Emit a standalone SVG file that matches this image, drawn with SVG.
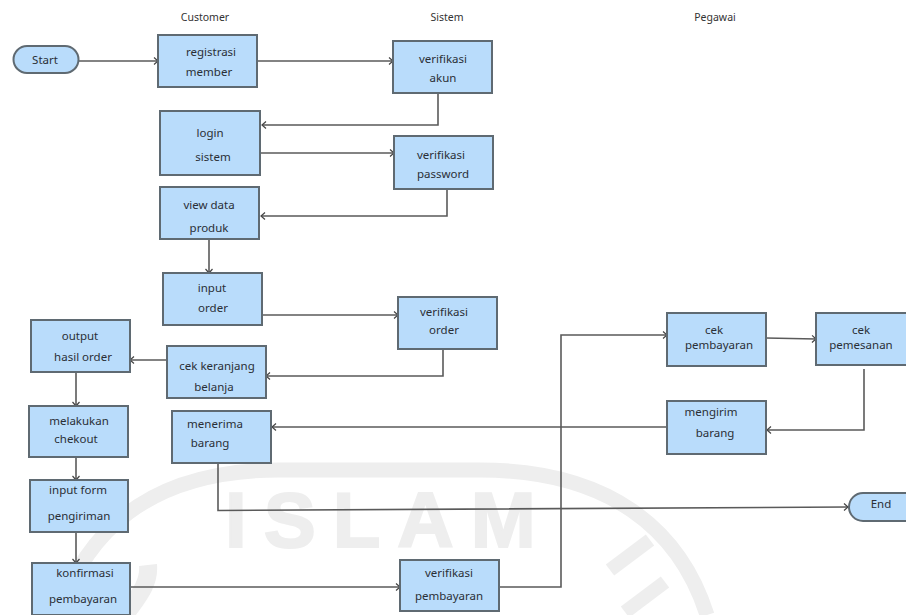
<svg xmlns="http://www.w3.org/2000/svg" width="906" height="615" viewBox="0 0 906 615">
<style>
.n{fill:#b9dcfb;stroke:#5f6a72;stroke-width:2}
.t{font-family:"Noto Sans","DejaVu Sans",sans-serif;font-size:11.5px;fill:#2a2f36;text-anchor:middle}
.h{font-family:"Noto Sans","DejaVu Sans",sans-serif;font-size:10.5px;fill:#333;text-anchor:middle}
.c{fill:none;stroke:#5a5a5a;stroke-width:1.6}
.w{font-family:"Liberation Sans",sans-serif;font-weight:bold;font-size:78px;fill:#eeeeee;stroke:#eeeeee;stroke-width:2;letter-spacing:17px}
.l{fill:none;stroke:#eeeeee}
</style>
<defs>
<marker id="a" markerWidth="8" markerHeight="10" refX="6" refY="5" orient="auto" markerUnits="userSpaceOnUse"><path d="M2 1.500L6 5L2 8.500" fill="none" stroke="#444" stroke-width="1.200"/></marker>
</defs>
<rect width="906" height="615" fill="#fff"/>
<g id="watermark">
<path class="l" stroke-width="15" d="M58 615C85 535 145 470 280 470H480C610 470 680 530 707 615"/>
<path class="l" stroke-width="18" d="M148 565C150 585 135 600 125 615"/>
<path class="l" stroke-width="14" d="M610 570L650 540"/>
<path class="l" stroke-width="14" d="M625 612L665 582"/>
<text class="w" x="225" y="547">ISLAM</text>
</g>
<g id="connectors">
<path class="c" marker-end="url(#a)" d="M79 61H158"/>
<path class="c" marker-end="url(#a)" d="M257 61H393"/>
<path class="c" marker-end="url(#a)" d="M438 93V125H262"/>
<path class="c" marker-end="url(#a)" d="M260 153H394"/>
<path class="c" marker-end="url(#a)" d="M447 189V216H261"/>
<path class="c" marker-end="url(#a)" d="M209 239V273"/>
<path class="c" marker-end="url(#a)" d="M262 315H398"/>
<path class="c" marker-end="url(#a)" d="M443 349V376H266"/>
<path class="c" marker-end="url(#a)" d="M167 360H130"/>
<path class="c" marker-end="url(#a)" d="M76 372V406"/>
<path class="c" marker-end="url(#a)" d="M76 457V480"/>
<path class="c" marker-end="url(#a)" d="M76 532V563"/>
<path class="c" marker-end="url(#a)" d="M130 587H400"/>
<path class="c" marker-end="url(#a)" d="M499 587H561V335H667"/>
<path class="c" marker-end="url(#a)" d="M766 338L816 339"/>
<path class="c" marker-end="url(#a)" d="M864 369V430H767"/>
<path class="c" marker-end="url(#a)" d="M667 427H272"/>
<path class="c" marker-end="url(#a)" d="M218 463V510.500L848 507"/>
</g>
<g id="start"><rect class="n" x="13.500" y="46" width="65" height="27" rx="13.500"/><text class="t" x="45" y="64">Start</text></g>
<g id="end"><path class="n" d="M907 493H863A13.500 13.500 0 0 0 863 521H907Z"/><text class="t" x="881" y="508">End</text></g>
<g id="registrasi"><rect class="n" x="158" y="35" width="99" height="52"/><text class="t" x="211" y="56">registrasi</text><text class="t" x="209" y="76">member</text></g>
<g id="verif-akun"><rect class="n" x="393" y="41" width="99" height="52"/><text class="t" x="443" y="63">verifikasi</text><text class="t" x="443" y="82">akun</text></g>
<g id="login"><rect class="n" x="160" y="111" width="100" height="64"/><text class="t" x="210" y="137">login</text><text class="t" x="213" y="161">sistem</text></g>
<g id="verif-password"><rect class="n" x="394" y="136" width="99" height="53"/><text class="t" x="441" y="159">verifikasi</text><text class="t" x="443" y="178">password</text></g>
<g id="view"><rect class="n" x="160" y="187" width="99" height="52"/><text class="t" x="209" y="209">view data</text><text class="t" x="209" y="232">produk</text></g>
<g id="input"><rect class="n" x="163" y="273" width="99" height="52"/><text class="t" x="212" y="292">input</text><text class="t" x="213" y="312">order</text></g>
<g id="verif-order"><rect class="n" x="398" y="297" width="99" height="52"/><text class="t" x="444" y="316">verifikasi</text><text class="t" x="444" y="334">order</text></g>
<g id="output"><rect class="n" x="31" y="320" width="99" height="52"/><text class="t" x="80" y="340">output</text><text class="t" x="83" y="361">hasil order</text></g>
<g id="keranjang"><rect class="n" x="167" y="346" width="99" height="52"/><text class="t" x="217" y="370">cek keranjang</text><text class="t" x="214" y="391">belanja</text></g>
<g id="melakukan"><rect class="n" x="29" y="406" width="99" height="51"/><text class="t" x="79" y="425">melakukan</text><text class="t" x="76" y="443">chekout</text></g>
<g id="menerima"><rect class="n" x="172" y="411" width="99" height="52"/><text class="t" x="215" y="428">menerima</text><text class="t" x="210" y="447">barang</text></g>
<g id="input-form"><rect class="n" x="30" y="480" width="98" height="52"/><text class="t" x="78" y="494">input form</text><text class="t" x="79" y="520">pengiriman</text></g>
<g id="konfirmasi"><rect class="n" x="32" y="563" width="98" height="52"/><text class="t" x="85" y="577">konfirmasi</text><text class="t" x="83" y="603">pembayaran</text></g>
<g id="verif-pembayaran"><rect class="n" x="400" y="560" width="99" height="51"/><text class="t" x="449" y="577">verifikasi</text><text class="t" x="449" y="600">pembayaran</text></g>
<g id="cek-pembayaran"><rect class="n" x="667" y="313" width="99" height="53"/><text class="t" x="714" y="334">cek</text><text class="t" x="719" y="349">pembayaran</text></g>
<g id="cek-pemesanan"><rect class="n" x="816" y="313" width="91" height="52"/><text class="t" x="861" y="334">cek</text><text class="t" x="861" y="349">pemesanan</text></g>
<g id="mengirim"><rect class="n" x="667" y="401" width="99" height="53"/><text class="t" x="711" y="416">mengirim</text><text class="t" x="715" y="437">barang</text></g>
<text class="h" x="205" y="21">Customer</text>
<text class="h" x="447" y="21">Sistem</text>
<text class="h" x="715" y="21">Pegawai</text>
</svg>
